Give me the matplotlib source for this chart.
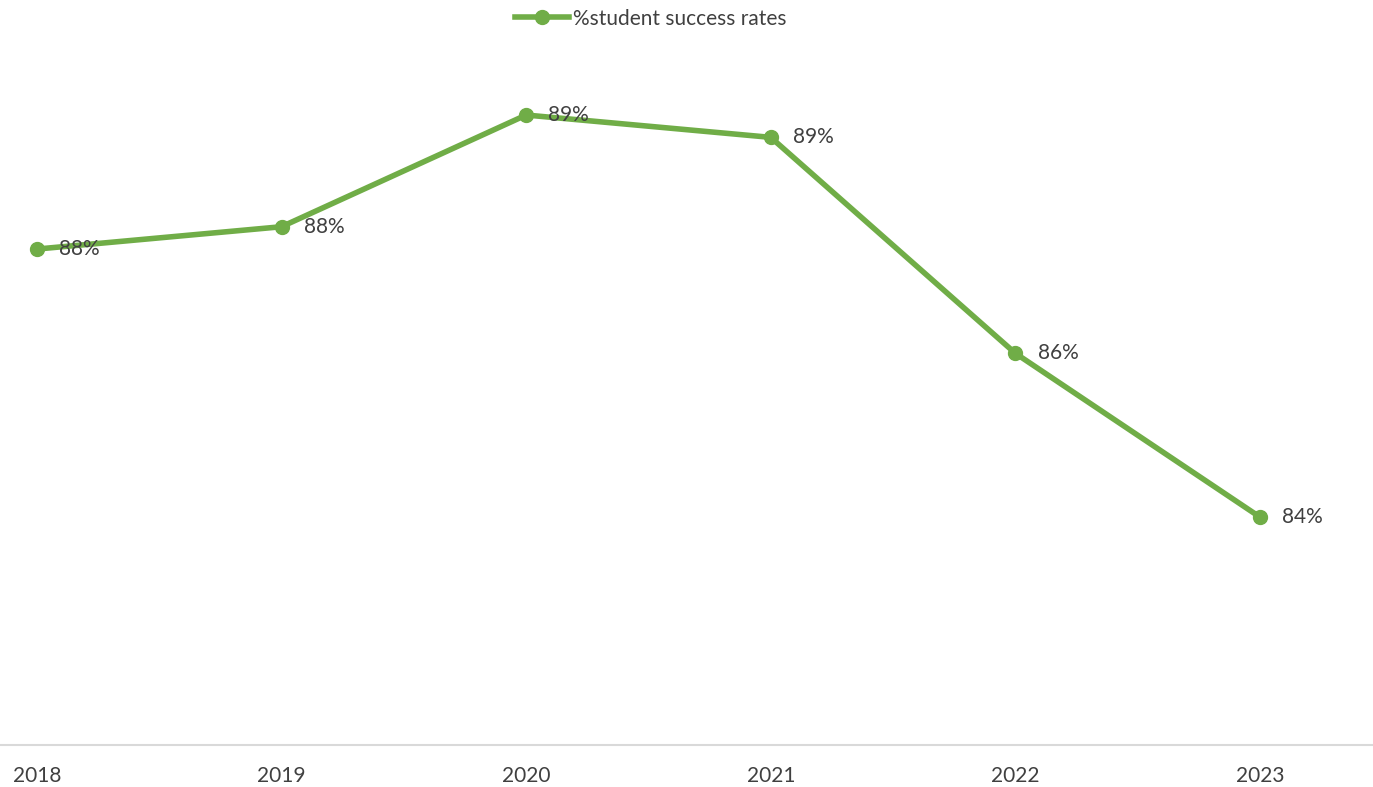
import matplotlib.pyplot as plt
from matplotlib.lines import Line2D

years = ["2018", "2019", "2020", "2021", "2022", "2023"]
success_rate = [0.876, 0.879, 0.894, 0.891, 0.862, 0.840]
series_name = "%student success rates"

GREEN = "#70AD47"
TEXT = "#404040"
plt.rcParams["font.family"] = ["Lato", "DejaVu Sans"]

fig = plt.figure(figsize=(13.73, 7.87), dpi=100)
ax = fig.add_axes([0, 0.0534, 1, 0.896])

x = list(range(len(years)))
ax.plot(x, success_rate, color=GREEN, lw=4, marker="o", ms=10,
        solid_capstyle="round", zorder=3)

for xi, v in zip(x, success_rate):
    ax.annotate(f"{v:.0%}", (xi, v), xytext=(16, 0), textcoords="offset points",
                ha="left", va="center", fontsize=15, color=TEXT, zorder=4)

ax.set_xlim(-0.151, 5.462)
ax.set_ylim(0.8094, 0.9041)
ax.set_xticks(x)
ax.set_xticklabels(years, fontsize=15, color=TEXT)
ax.tick_params(axis="x", length=0, pad=15)
ax.set_yticks([])
for s in ["top", "right", "left"]:
    ax.spines[s].set_visible(False)
ax.spines["bottom"].set_color("#D9D9D9")
ax.spines["bottom"].set_linewidth(1.5)

handle = Line2D([], [], color=GREEN, lw=4, marker="o", ms=10)
fig.legend([handle], [series_name], loc="upper center", bbox_to_anchor=(0.474, 1.005),
           frameon=False, fontsize=15, labelcolor=TEXT, handlelength=2.6,
           handletextpad=0.2, borderaxespad=0.2)

fig.savefig("out.png", dpi=100)
